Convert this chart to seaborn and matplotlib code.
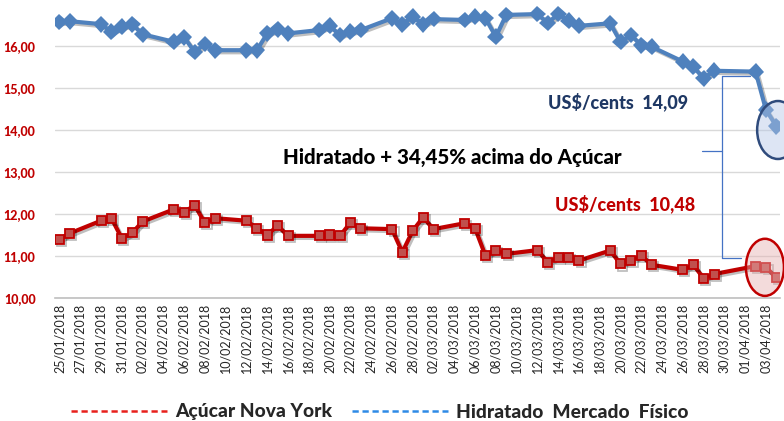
import pandas as pd
import numpy as np
import seaborn as sns
import matplotlib.pyplot as plt
import matplotlib.dates as mdates
import matplotlib.patheffects as pe
from matplotlib.patches import Ellipse
from matplotlib.lines import Line2D

dates = ['2018-01-25', '2018-01-26', '2018-01-29', '2018-01-30', '2018-01-31', '2018-02-01', '2018-02-02',
         '2018-02-05', '2018-02-06', '2018-02-07', '2018-02-08', '2018-02-09',
         '2018-02-12', '2018-02-13', '2018-02-14', '2018-02-15', '2018-02-16',
         '2018-02-19', '2018-02-20', '2018-02-21', '2018-02-22', '2018-02-23',
         '2018-02-26', '2018-02-27', '2018-02-28', '2018-03-01', '2018-03-02',
         '2018-03-05', '2018-03-06', '2018-03-07', '2018-03-08', '2018-03-09',
         '2018-03-12', '2018-03-13', '2018-03-14', '2018-03-15', '2018-03-16',
         '2018-03-19', '2018-03-20', '2018-03-21', '2018-03-22', '2018-03-23',
         '2018-03-26', '2018-03-27', '2018-03-28', '2018-03-29',
         '2018-04-02', '2018-04-03', '2018-04-04']

hidratado = [16.57, 16.59, 16.52, 16.34, 16.46, 16.52, 16.28,
             16.10, 16.21, 15.86, 16.05, 15.90,
             15.90, 15.90, 16.30, 16.40, 16.30,
             16.38, 16.48, 16.26, 16.34, 16.38,
             16.66, 16.52, 16.70, 16.52, 16.64,
             16.62, 16.70, 16.66, 16.22, 16.74,
             16.76, 16.55, 16.76, 16.60, 16.48,
             16.54, 16.10, 16.26, 16.02, 15.98,
             15.63, 15.51, 15.23, 15.41,
             15.39, 14.48, 14.09]

acucar = [11.40, 11.54, 11.84, 11.90, 11.42, 11.55, 11.82,
          12.11, 12.04, 12.21, 11.79, 11.90,
          11.84, 11.66, 11.50, 11.72, 11.48,
          11.48, 11.50, 11.48, 11.79, 11.66,
          11.64, 11.09, 11.60, 11.92, 11.64,
          11.78, 11.66, 11.01, 11.13, 11.05,
          11.14, 10.85, 10.97, 10.97, 10.89,
          11.13, 10.81, 10.89, 11.01, 10.79,
          10.67, 10.79, 10.47, 10.57,
          10.76, 10.73, 10.48]

yticks = [10, 11, 12, 13, 14, 15, 16]
ytick_labels = ['10,00', '11,00', '12,00', '13,00', '14,00', '15,00', '16,00']

df = pd.DataFrame({'data': pd.to_datetime(dates), 'hidratado': hidratado, 'acucar': acucar})

sns.set_style('white')
FONT = 'Lato'
plt.rcParams['font.family'] = FONT
HEAVY = 900

fig = plt.figure(figsize=(7.84, 4.21), dpi=100)
ax = fig.add_axes([55 / 784, 1 - 298 / 421, 725 / 784, 294 / 421])

shadow = [pe.SimpleLineShadow(offset=(1.5, -1.5), alpha=0.25), pe.Normal()]

sns.lineplot(data=df, x='data', y='hidratado', ax=ax, color='#4f81bd', linewidth=3,
             marker='D', markersize=8.5, markeredgecolor='#4f81bd', markeredgewidth=0)
sns.lineplot(data=df, x='data', y='acucar', ax=ax, color='#c00000', linewidth=3,
             marker='s', markersize=6.5, markerfacecolor='#c0504d', markeredgecolor='#c00000',
             markeredgewidth=1.3)
for ln in ax.lines:
    ln.set_path_effects(shadow)

start = pd.Timestamp('2018-01-25')
ax.set_xlim(mdates.date2num(start) - 0.43, mdates.date2num(start) + 69.35)
ax.set_ylim(10, 17)

xt = pd.date_range('2018-01-25', '2018-04-03', freq='2D')
ax.set_xticks(xt)
ax.set_xticklabels([d.strftime('%d/%m/%Y') for d in xt], rotation=90, fontsize=9, color='#262626',
                   family=FONT)
ax.set_yticks(yticks)
ax.set_yticklabels(ytick_labels, fontsize=9, color='#c00000', family=FONT, fontweight=HEAVY)
ax.tick_params(axis='both', length=0, pad=4)
ax.tick_params(axis='y', pad=14)
ax.grid(axis='y', color='#d9d9d9', linewidth=1)
ax.set_xlabel('')
ax.set_ylabel('')
for s in ['top', 'right', 'left']:
    ax.spines[s].set_visible(False)
ax.spines['bottom'].set_color('#bfbfbf')
ax.spines['bottom'].set_linewidth(1.2)

# destaques no final das séries
e1 = Ellipse((mdates.date2num(start) + 69.15, 14.0), 4.0, 1.38, facecolor='#b4c7e7', alpha=0.45,
             edgecolor='none', zorder=5, clip_on=False)
e1b = Ellipse((mdates.date2num(start) + 69.15, 14.0), 4.0, 1.38, facecolor='none',
              edgecolor='#2f4b7c', linewidth=1.8, zorder=6, clip_on=False)
e2 = Ellipse((mdates.date2num(start) + 67.9, 10.73), 3.66, 1.36, facecolor='#e6b0b0', alpha=0.45,
             edgecolor='none', zorder=5, clip_on=False)
e2b = Ellipse((mdates.date2num(start) + 67.9, 10.73), 3.66, 1.36, facecolor='none',
              edgecolor='#c00000', linewidth=1.8, zorder=6, clip_on=False)
for e in [e1, e1b, e2, e2b]:
    ax.add_patch(e)

# chave ligando os dois destaques
bx = 721.7 / 784
fig.add_artist(Line2D([bx, bx], [1 - 75.7 / 421, 1 - 257.7 / 421], color='#4472c4', lw=0.9))
fig.add_artist(Line2D([bx, 750 / 784], [1 - 75.7 / 421, 1 - 75.7 / 421], color='#4472c4', lw=0.9))
fig.add_artist(Line2D([bx, 741 / 784], [1 - 257.7 / 421, 1 - 257.7 / 421], color='#4472c4', lw=0.9))
fig.add_artist(Line2D([701.7 / 784, bx], [1 - 150.7 / 421, 1 - 150.7 / 421], color='#4472c4', lw=0.9))

fig.text(548 / 784, 1 - 102 / 421, 'US$/cents  14,09', color='#1f3864', fontsize=13,
         family=FONT, fontweight=HEAVY, va='center', ha='left')
fig.text(283 / 784, 1 - 157 / 421, 'Hidratado + 34,45% acima do Açúcar', color='black', fontsize=14.8,
         family=FONT, fontweight=HEAVY, va='center', ha='left')
fig.text(555 / 784, 1 - 204 / 421, 'US$/cents  10,48', color='#c00000', fontsize=13,
         family=FONT, fontweight=HEAVY, va='center', ha='left')

handles = [Line2D([], [], color='#e8201c', lw=1.8, linestyle=(0, (2.5, 1.5))),
           Line2D([], [], color='#2e8ae6', lw=1.8, linestyle=(0, (2.5, 1.5)))]
fig.legend(handles, ['Açúcar Nova York', 'Hidratado  Mercado  Físico'], loc='center',
           bbox_to_anchor=(380 / 784, 1 - 412 / 421), ncol=2, frameon=False,
           prop={'family': FONT, 'weight': HEAVY, 'size': 13.8}, handlelength=5.0,
           handletextpad=0.42, columnspacing=1.04)

fig.savefig('out.png', dpi=100)
